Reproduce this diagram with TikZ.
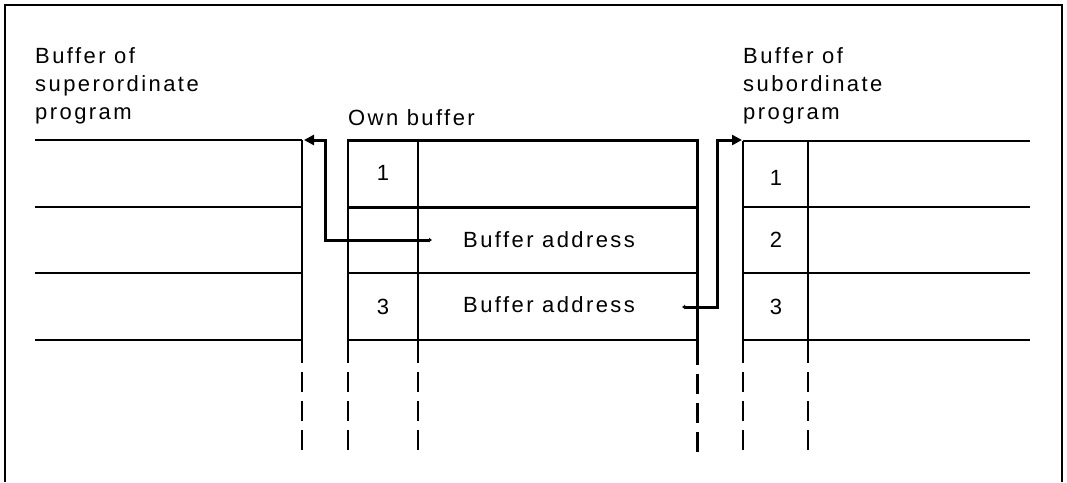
\documentclass[tikz,border=0pt]{standalone}
\usepackage{fontspec}
\setmainfont{Liberation Sans}[LetterSpace=11]
\usetikzlibrary{arrows.meta}
\begin{document}
\begin{tikzpicture}[x=1pt,y=-1pt,
  thinline/.style={line width=1.4pt},
  thickline/.style={line width=3pt},
  dashline/.style={line width=1.4pt, dash pattern=on 20pt off 9pt},
  thickdash/.style={line width=3pt, dash pattern=on 20pt off 9pt},
  lbl/.style={font=\fontsize{22}{28}\selectfont, inner sep=0pt, anchor=base west},
  num/.style={font=\fontsize{22}{28}\selectfont, inner sep=0pt},
  link/.style={line width=3pt, {Latex[length=3pt,width=5pt]}-{Triangle[length=10pt,width=10pt]}}]
\useasboundingbox (0,0) rectangle (1067,482);
% frame
\draw[line width=2pt] (5,482) -- (5,5) -- (1062,5) -- (1062,482);

% labels
\node[lbl] (supA) at (35,63) {Buffer of};
\node[lbl] (supB) at (35,91) {superordinate};
\node[lbl] (supC) at (35,119) {program};
\node[lbl] (own) at (348,125) {Own buffer};
\node[lbl] (subA) at (743,63) {Buffer of};
\node[lbl] (subB) at (743,91) {subordinate};
\node[lbl] (subC) at (743,119) {program};

% left buffer
\foreach \y in {140,207,273,340} \draw[thinline] (35,\y) -- (302,\y);
\draw[thinline] (302,140) -- (302,363);
\draw[dashline] (302,372) -- (302,452);

% own buffer
\draw[thinline] (348,273) -- (697,273);
\draw[thinline] (348,340) -- (697,340);
\draw[thinline] (348,139) -- (348,363);
\draw[dashline] (348,372) -- (348,452);
\draw[thinline] (418,140) -- (418,363);
\draw[dashline] (418,372) -- (418,452);
\draw[thickline] (348,140) -- (697,140);
\draw[thickline] (348,207) -- (697,207);
\draw[thickline] (697,138.5) -- (697,365);
\draw[thickdash] (697,374) -- (697,454);

% right buffer
\foreach \y in {141,207,273,340} \draw[thinline] (743,\y) -- (1030,\y);
\draw[thinline] (743,141) -- (743,363);
\draw[dashline] (743,372) -- (743,452);
\draw[thinline] (808,141) -- (808,363);
\draw[dashline] (808,372) -- (808,452);

% cell texts
\node[num] (o1) at (383,173) {1};
\node[lbl, anchor=west] (ba1) at (463,240) {Buffer address};
\node[num] (o3) at (383,307) {3};
\node[lbl, anchor=west] (ba2) at (463,305) {Buffer address};
\node[num] (s1) at (776,178) {1};
\node[num] (s2) at (776,240) {2};
\node[num] (s3) at (776,307) {3};

% connectors
\coordinate (a1s) at (432,240);
\coordinate (a1v) at (325,140);
\coordinate (a1e) at (304,140);
\draw[link] (a1s) -| (a1v) -- (a1e);
\coordinate (a2s) at (682,307);
\coordinate (a2v) at (717,140);
\coordinate (a2e) at (742,140);
\draw[link] (a2s) -| (a2v) -- (a2e);
\end{tikzpicture}
\end{document}
